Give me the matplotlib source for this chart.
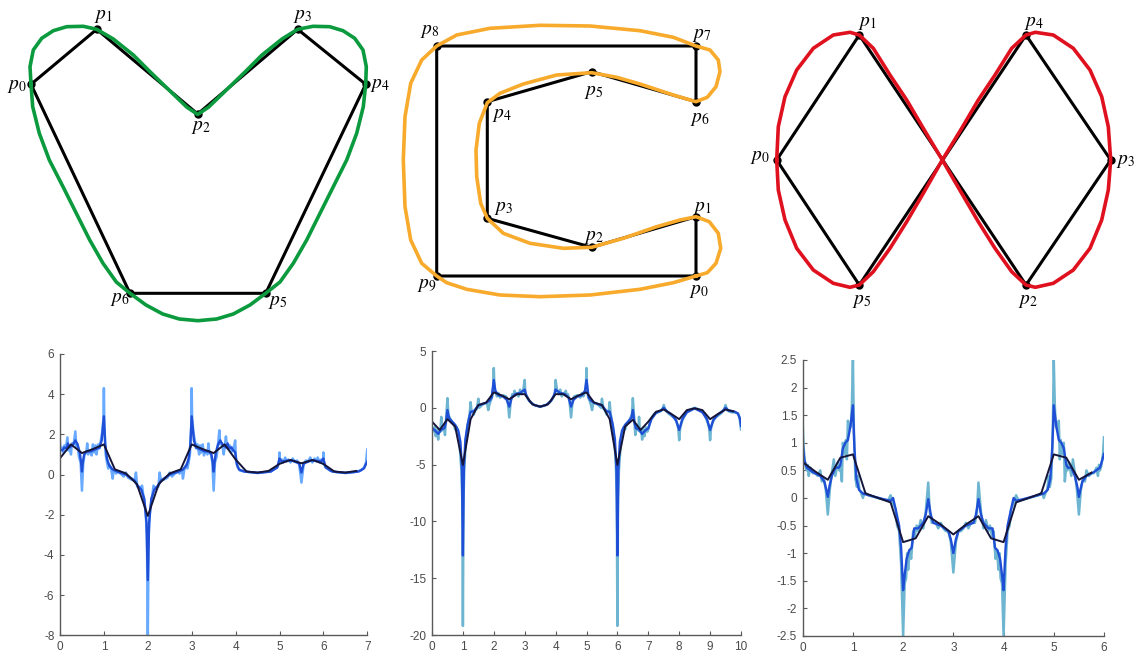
import numpy as np
import matplotlib
matplotlib.use('Agg')
import matplotlib.pyplot as plt
from matplotlib.ticker import FuncFormatter

plt.rcParams['mathtext.fontset'] = 'stix'
plt.rcParams['axes.unicode_minus'] = False
plt.rcParams['font.family'] = ['Liberation Sans Narrow', 'Liberation Sans', 'DejaVu Sans']

W, H = 1141, 661

# ---- top row: control polygons and the curves through them (image pixels) ----
heart_px = [31, 96.7, 197.7, 297.7, 365.7, 265.7, 130]
heart_py = [84.3, 29.3, 114, 29.3, 84.3, 293.3, 293.3]
heart_cx = [31, 30, 33.3, 41.7, 53.3, 66.7, 83.3, 96.7, 113.3, 133.3, 150, 170, 186.7, 197.7,
            208.7, 225.3, 245.3, 262, 282, 297.7, 313, 329.7, 343, 354.7, 363, 366.3, 365.7,
            363.3, 356.7, 346.7, 333.3, 320, 306.7, 293.3, 280, 265.7, 250, 233.3, 216.7, 198,
            179.3, 162.7, 146, 130, 116.3, 103, 89.7, 76.3, 63, 49.3, 39.3, 32.7]
heart_cy = [84.3, 66.7, 50, 38.3, 30.7, 26.7, 26.3, 29.3, 39, 55, 71.7, 91, 107, 114.5,
            107, 91, 71.7, 55, 39, 29.3, 26.3, 26.7, 30.7, 38.3, 50, 66.7, 84.3,
            106.7, 133.3, 160, 186.7, 213.3, 240, 263.3, 282, 293.3, 305, 314, 319, 320.7,
            319, 314, 305, 293.3, 282, 263.3, 240, 213.3, 186.7, 160, 133.3, 106.7]

cshape_px = [696, 696, 591.7, 487.3, 487.3, 591.7, 696, 696, 436.7, 436.7]
cshape_py = [276, 216.7, 247.3, 218.3, 101.7, 71.7, 101.7, 46, 46, 276]
cshape_cx = [696, 673.3, 640, 590, 540, 500, 466.7, 446.7, 436.7, 421.7, 410.7, 405, 403.3, 405,
             410.7, 421.7, 436.7, 456.7, 490, 540, 590, 640, 673.3, 696, 710, 718.3, 720, 716,
             707.3, 696, 673.3, 640, 616.7, 591.7, 556.7, 523.3, 500, 487.3, 479.3, 476, 476.7,
             480.7, 487.3, 503.3, 530, 563.3, 591.7, 623.3, 656.7, 680, 696, 709.3, 718.3,
             720.7, 716, 707.3]
cshape_cy = [276, 282.7, 289.3, 295, 296.7, 295, 289.3, 282.7, 276, 263.3, 240, 206.7, 160, 116.7,
             83.3, 60, 46, 35, 28.3, 25.3, 26, 30.7, 37.3, 46, 50, 60, 71.7, 86.7,
             97.3, 101.7, 95, 84, 77.3, 72.7, 75, 84, 93.3, 102.7, 123.3, 150, 176.7,
             203.3, 218.3, 233.3, 243.3, 248.3, 247.3, 238.3, 226.7, 220, 216.7, 221.7, 233.3,
             248.3, 263.3, 272.7]

eight_px = [776.7, 859.3, 1026, 1110.7, 1026, 859.3]
eight_py = [160, 35, 285, 160, 35, 285]
eight_cx = [776.7, 778.3, 785, 796.7, 813.3, 833.3, 850, 859.3, 873.3, 890, 906.7, 923.3, 942.3,
            961.7, 978.3, 995, 1011.7, 1026, 1035.3, 1053.3, 1073.3, 1090, 1101.7, 1108.3,
            1110.7, 1108.3, 1101.7, 1090, 1073.3, 1053.3, 1035.3, 1026, 1011.7, 995, 978.3,
            961.7, 942.3, 923.3, 906.7, 890, 873.3, 859.3, 850, 833.3, 813.3, 796.7, 785, 778.3]
eight_cy = [160, 126.7, 96.7, 70, 48.3, 35, 32.3, 35, 48.3, 75, 100, 128.3, 160,
            193.3, 221.7, 248.3, 271.7, 285, 287.3, 283.3, 270, 248.3, 220, 190,
            160, 126.7, 96.7, 70, 48.3, 35, 32.3, 35, 48.3, 75, 100,
            128.3, 160, 193.3, 221.7, 248.3, 271.7, 285, 287.3, 283.3, 270, 248.3, 220, 190]

# label offsets (pixels, y up)
heart_off = [(-14, -2), (7, 13), (3, -14), (5, 13), (14, -1), (12, -9), (-10, -6)]
cshape_off = [(3, -16), (6, 8), (2, 10), (16, 10), (15, -14), (2, -21), (4, -18), (6, 10),
              (-7, 14), (-10, -9)]
eight_off = [(-17, 2), (8, 12), (2, -17), (15, -1), (8, 12), (2, -17)]

# ---- bottom row: curvature plots ----
k1_light = [(0.00, 1.6), (0.01, 1.2), (0.05, 1.35), (0.08, 1.1), (0.10, 1.45), (0.13, 1.3),
            (0.17, 1.85), (0.19, 1.2), (0.22, 1.4), (0.25, 1.0), (0.27, 1.55), (0.31, 1.5),
            (0.35, 2.15), (0.37, 1.4), (0.40, 1.5), (0.43, 0.9), (0.47, 0.6), (0.50, -0.8),
            (0.53, 0.6), (0.56, 1.0), (0.60, 1.1), (0.62, 1.55), (0.64, 1.0), (0.70, 1.2),
            (0.72, 0.95), (0.75, 1.5), (0.78, 1.1), (0.81, 1.45), (0.83, 1.0), (0.87, 1.5),
            (0.90, 1.3), (0.93, 1.7), (0.96, 2.1), (0.99, 2.8), (1.00, 4.3), (1.01, 2.5),
            (1.04, 1.0), (1.07, 0.6), (1.10, 0.3), (1.12, 0.5), (1.16, 0.35), (1.20, -0.2),
            (1.22, 0.2), (1.28, 0.05), (1.30, 0.15), (1.38, 0.05), (1.45, -0.1), (1.50, 0.1),
            (1.55, -0.15), (1.63, -0.25), (1.70, -0.3), (1.73, 0.1), (1.76, -0.6), (1.82, -0.7),
            (1.87, -0.55), (1.90, -1.1), (1.95, -1.8), (1.98, -3.0), (2.00, -8.0), (2.02, -3.0),
            (2.05, -1.8), (2.10, -1.1), (2.13, -0.55), (2.18, -0.7), (2.24, -0.6), (2.27, 0.1),
            (2.30, -0.3), (2.37, -0.25), (2.45, -0.15), (2.50, 0.1), (2.55, -0.1), (2.62, 0.05),
            (2.70, 0.15), (2.72, 0.05), (2.78, 0.2), (2.80, -0.2), (2.84, 0.35), (2.88, 0.5),
            (2.90, 0.3), (2.93, 0.6), (2.96, 1.0), (2.99, 2.5), (3.00, 4.3), (3.01, 2.8),
            (3.04, 2.1), (3.07, 1.7), (3.10, 1.3), (3.13, 1.5), (3.17, 1.0), (3.19, 1.45),
            (3.22, 1.1), (3.25, 1.5), (3.28, 0.95), (3.30, 1.2), (3.36, 1.0), (3.38, 1.55),
            (3.40, 1.1), (3.44, 1.0), (3.47, 0.6), (3.50, -0.8), (3.53, 0.6), (3.57, 0.9),
            (3.60, 1.5), (3.63, 2.2), (3.65, 1.5), (3.69, 1.55), (3.73, 1.0), (3.75, 1.4),
            (3.78, 1.9), (3.81, 1.3), (3.87, 1.45), (3.90, 1.1), (3.92, 1.35), (3.95, 1.2),
            (3.99, 1.7), (4.01, 0.7), (4.05, 0.35), (4.10, 0.2), (4.20, 0.15), (4.50, 0.08),
            (4.80, 0.15), (4.95, 0.4), (4.99, 0.55), (5.00, 1.1), (5.01, 0.6), (5.05, 0.75),
            (5.08, 0.6), (5.13, 0.85), (5.16, 0.65), (5.20, 0.75), (5.25, 0.6), (5.30, 0.8),
            (5.35, 0.65), (5.40, 0.7), (5.45, 0.5), (5.50, -0.4), (5.55, 0.5), (5.60, 0.7),
            (5.65, 0.65), (5.70, 0.85), (5.75, 0.6), (5.80, 0.8), (5.84, 0.65), (5.87, 0.85),
            (5.92, 0.6), (5.95, 0.75), (5.99, 0.55), (6.00, 1.1), (6.01, 0.5), (6.05, 0.4),
            (6.15, 0.2), (6.30, 0.12), (6.50, 0.08), (6.70, 0.12), (6.85, 0.2), (6.93, 0.35),
            (6.97, 0.6), (7.00, 1.25)]
k1_mid = [(0, 1.25), (0.05, 1.2), (0.1, 1.35), (0.15, 1.3), (0.18, 1.55), (0.22, 1.35), (0.3, 1.5),
          (0.35, 1.7), (0.4, 1.5), (0.45, 1.1), (0.48, 0.6), (0.5, 0.15), (0.52, 0.6), (0.55, 1.0),
          (0.6, 1.15), (0.7, 1.15), (0.8, 1.25), (0.9, 1.35), (0.95, 1.7), (1.0, 2.9), (1.03, 1.5),
          (1.07, 0.8), (1.12, 0.45), (1.2, 0.25), (1.3, 0.15), (1.5, 0.0), (1.6, -0.15),
          (1.7, -0.3), (1.75, -0.5), (1.85, -0.75), (1.92, -1.2), (1.97, -2.4), (2.0, -5.25),
          (2.03, -2.4), (2.08, -1.2), (2.15, -0.75), (2.25, -0.5), (2.3, -0.3), (2.4, -0.15),
          (2.5, 0.0), (2.7, 0.15), (2.8, 0.25), (2.88, 0.45), (2.93, 0.8), (2.97, 1.5), (3.0, 2.9),
          (3.05, 1.7), (3.1, 1.35), (3.2, 1.25), (3.3, 1.15), (3.4, 1.15), (3.45, 1.0), (3.48, 0.6),
          (3.5, 0.15), (3.52, 0.6), (3.55, 1.1), (3.6, 1.5), (3.65, 1.7), (3.7, 1.5), (3.78, 1.35),
          (3.82, 1.55), (3.85, 1.3), (3.9, 1.35), (3.95, 1.2), (3.99, 1.1), (4.03, 0.5),
          (4.08, 0.25), (4.2, 0.15), (4.5, 0.08), (4.8, 0.15), (4.95, 0.35), (5.0, 0.8),
          (5.05, 0.65), (5.2, 0.7), (5.3, 0.68), (5.45, 0.55), (5.5, 0.1), (5.55, 0.55),
          (5.7, 0.68), (5.8, 0.7), (5.95, 0.65), (6.0, 0.8), (6.05, 0.35), (6.2, 0.15),
          (6.5, 0.08), (6.8, 0.15), (6.92, 0.3), (7.0, 0.65)]
k1_dark = [0.81, 1.5, 1.07, 1.27, 1.5, 0.26, 0.06, -0.47, -2.06, -0.47, 0.06, 0.26, 1.5, 1.27,
           1.07, 1.5, 0.75, 0.15, 0.1, 0.18, 0.53, 0.73, 0.56, 0.73, 0.53, 0.15, 0.1, 0.18]

k2_light = [(0, -1.9), (0.03, -2.1), (0.08, -1.7), (0.12, -2.5), (0.16, -1.9), (0.2, -2.8),
            (0.23, -1.9), (0.27, -2.1), (0.3, -0.8), (0.32, -2.0), (0.38, -1.5), (0.42, -2.4),
            (0.45, -1.2), (0.5, 0.85), (0.53, -0.6), (0.58, -0.9), (0.65, -1.3), (0.7, -1.4),
            (0.75, -1.9), (0.8, -1.7), (0.85, -2.3), (0.9, -3.5), (0.95, -5.5), (0.98, -8),
            (1.0, -19.2), (1.02, -8), (1.05, -5), (1.1, -2.8), (1.15, -1.6), (1.22, -0.5),
            (1.25, 0.5), (1.28, -0.3), (1.35, -0.6), (1.4, -0.2), (1.45, -0.1), (1.5, 0.8),
            (1.53, 0.0), (1.6, 0.2), (1.7, 0.4), (1.78, 0.4), (1.82, -0.2), (1.86, 0.3),
            (1.9, 0.6), (1.95, 1.0), (1.98, 1.7), (2.0, 3.5), (2.02, 1.8), (2.05, 1.4),
            (2.1, 1.0), (2.15, 1.3), (2.2, 0.9), (2.3, 1.1), (2.4, 1.0), (2.45, 0.6),
            (2.5, -0.85), (2.55, 0.6), (2.6, 1.2), (2.63, 1.0), (2.67, 1.5), (2.7, 1.1),
            (2.75, 1.3), (2.8, 1.0), (2.85, 1.6), (2.9, 1.2), (2.95, 1.5), (3.0, 2.45),
            (3.02, 1.3), (3.1, 0.8), (3.2, 0.45), (3.35, 0.2), (3.5, 0.1), (3.65, 0.2),
            (3.8, 0.45), (3.9, 0.8), (3.98, 1.3), (4.0, 2.45), (4.05, 1.5), (4.1, 1.2),
            (4.15, 1.6), (4.2, 1.0), (4.25, 1.3), (4.3, 1.1), (4.33, 1.5), (4.37, 1.0),
            (4.4, 1.2), (4.45, 0.6), (4.5, -0.85), (4.55, 0.6), (4.6, 1.0), (4.7, 1.1),
            (4.8, 0.9), (4.85, 1.3), (4.9, 1.0), (4.95, 1.4), (4.98, 1.8), (5.0, 3.5),
            (5.02, 1.7), (5.05, 1.0), (5.1, 0.6), (5.14, 0.3), (5.18, -0.2), (5.22, 0.4),
            (5.3, 0.4), (5.4, 0.2), (5.47, 0.0), (5.5, 0.8), (5.55, -0.1), (5.6, -0.2),
            (5.65, -0.6), (5.72, -0.3), (5.75, 0.5), (5.78, -0.5), (5.85, -1.6), (5.9, -2.8),
            (5.95, -5), (5.98, -8), (6.0, -19.2), (6.02, -8), (6.05, -5.5), (6.1, -3.5),
            (6.15, -2.3), (6.2, -1.7), (6.25, -1.9), (6.3, -1.4), (6.35, -1.3), (6.42, -0.9),
            (6.47, -0.6), (6.5, 0.85), (6.55, -1.2), (6.58, -2.4), (6.62, -1.5), (6.68, -2.0),
            (6.7, -0.8), (6.73, -2.1), (6.77, -1.9), (6.8, -2.8), (6.84, -1.9), (6.88, -2.5),
            (6.92, -1.7), (6.97, -2.1), (7.0, -1.9), (7.05, -1.3), (7.1, -0.9), (7.2, -0.5),
            (7.3, -0.4), (7.4, -0.3), (7.45, -0.2), (7.5, 0.25), (7.55, -0.2), (7.65, -0.5),
            (7.75, -0.7), (7.85, -0.9), (7.92, -1.3), (7.97, -1.8), (8.0, -2.85), (8.03, -1.8),
            (8.08, -1.3), (8.15, -0.8), (8.25, -0.3), (8.4, -0.1), (8.5, 0.0), (8.6, -0.1),
            (8.75, -0.3), (8.85, -0.8), (8.92, -1.3), (8.97, -1.8), (9.0, -2.85), (9.03, -1.8),
            (9.08, -1.3), (9.15, -0.9), (9.25, -0.7), (9.35, -0.5), (9.45, -0.2), (9.5, 0.25),
            (9.55, -0.2), (9.6, -0.3), (9.7, -0.4), (9.8, -0.4), (9.9, -0.5), (9.95, -0.8),
            (10.0, -1.9)]
k2_mid = [(0, -1.8), (0.1, -2.0), (0.2, -2.3), (0.3, -1.9), (0.4, -1.8), (0.45, -1.3), (0.5, -0.2),
          (0.55, -0.9), (0.65, -1.2), (0.75, -1.5), (0.85, -2.0), (0.92, -3.0), (0.97, -5.5),
          (1.0, -13.0), (1.03, -5.5), (1.08, -2.8), (1.15, -1.5), (1.25, -0.35), (1.35, -0.3),
          (1.5, 0.2), (1.6, 0.3), (1.75, 0.45), (1.85, 0.6), (1.93, 0.9), (2.0, 2.45),
          (2.05, 1.5), (2.15, 1.1), (2.3, 1.0), (2.42, 0.7), (2.5, 0.1), (2.58, 0.9), (2.7, 1.2),
          (2.85, 1.3), (2.95, 1.5), (3.0, 1.6), (3.05, 1.1), (3.15, 0.6), (3.3, 0.25), (3.5, 0.1),
          (3.7, 0.25), (3.85, 0.6), (3.95, 1.1), (4.0, 1.6), (4.05, 1.5), (4.15, 1.3), (4.3, 1.2),
          (4.42, 0.9), (4.5, 0.1), (4.58, 0.7), (4.7, 1.0), (4.85, 1.1), (4.95, 1.5), (5.0, 2.45),
          (5.07, 0.9), (5.15, 0.6), (5.25, 0.45), (5.4, 0.3), (5.5, 0.2), (5.65, -0.3),
          (5.75, -0.35), (5.85, -1.5), (5.92, -2.8), (5.97, -5.5), (6.0, -13.0), (6.03, -5.5),
          (6.08, -3.0), (6.15, -2.0), (6.25, -1.5), (6.35, -1.2), (6.45, -0.9), (6.5, -0.2),
          (6.55, -1.3), (6.6, -1.8), (6.7, -1.9), (6.8, -2.3), (6.9, -2.0), (7.0, -1.8),
          (7.1, -1.0), (7.25, -0.45), (7.4, -0.25), (7.5, 0.0), (7.6, -0.3), (7.75, -0.6),
          (7.9, -1.1), (8.0, -1.95), (8.1, -1.0), (8.25, -0.4), (8.5, -0.05), (8.75, -0.4),
          (8.9, -1.0), (9.0, -1.95), (9.1, -1.1), (9.25, -0.6), (9.4, -0.3), (9.5, 0.0),
          (9.6, -0.25), (9.8, -0.35), (9.9, -0.5), (9.97, -1.0), (10.0, -1.6)]
k2_dark = [-1.22, -1.95, -1.0, -1.65, -5.03, -1.0, 0.25, 0.45, 1.36, 1.1, 0.75, 1.2, 1.2, 0.3,
           0.1, 0.3, 1.2, 1.2, 0.75, 1.1, 1.36, 0.45, 0.25, -1.0, -5.03, -1.65, -1.05, -1.95,
           -1.22, -0.35, -0.15, -0.55, -1.0, -0.2, -0.05, -0.2, -1.0, -0.55, -0.15, -0.3]

k3_light = [(0, 1.33), (0.02, 0.9), (0.05, 0.6), (0.08, 0.5), (0.1, 0.6), (0.12, 0.4), (0.15, 0.55),
            (0.2, 0.45), (0.25, 0.45), (0.3, 0.4), (0.35, 0.5), (0.38, 0.3), (0.42, 0.35),
            (0.46, 0.15), (0.5, -0.3), (0.54, 0.15), (0.58, 0.45), (0.62, 0.7), (0.65, 0.4),
            (0.7, 0.65), (0.73, 0.5), (0.75, 0.6), (0.78, 0.3), (0.8, 1.0), (0.83, 0.8),
            (0.86, 1.05), (0.88, 0.7), (0.9, 1.4), (0.93, 1.25), (0.96, 1.3), (0.98, 1.7),
            (1.0, 2.5), (1.02, 1.2), (1.05, 0.35), (1.08, 0.2), (1.1, 0.4), (1.13, 0.15),
            (1.16, 0.1), (1.2, 0.0), (1.23, 0.1), (1.3, 0.05), (1.5, 0.0), (1.7, -0.05),
            (1.75, 0.05), (1.8, -0.1), (1.85, -0.2), (1.88, -0.5), (1.92, -0.6), (1.96, -1.2),
            (2.0, -2.5), (2.03, -1.55), (2.06, -1.45), (2.08, -1.0), (2.1, -1.3), (2.13, -0.95),
            (2.16, -1.1), (2.2, -0.6), (2.23, -0.7), (2.27, -0.5), (2.3, -0.6), (2.35, -0.4),
            (2.4, -0.55), (2.45, -0.25), (2.5, 0.28), (2.53, -0.25), (2.57, -0.45),
            (2.65, -0.45), (2.7, -0.55), (2.75, -0.45), (2.8, -0.55), (2.85, -0.6), (2.9, -0.6),
            (2.95, -0.8), (3.0, -1.35), (3.05, -0.8), (3.1, -0.6), (3.15, -0.6), (3.2, -0.55),
            (3.25, -0.45), (3.3, -0.55), (3.35, -0.45), (3.43, -0.45), (3.47, -0.25),
            (3.5, 0.28), (3.55, -0.25), (3.6, -0.55), (3.65, -0.4), (3.7, -0.6), (3.73, -0.5),
            (3.77, -0.7), (3.8, -0.6), (3.84, -1.1), (3.87, -0.95), (3.9, -1.3), (3.92, -1.0),
            (3.94, -1.45), (3.97, -1.55), (4.0, -2.5), (4.04, -1.2), (4.08, -0.6), (4.12, -0.5),
            (4.15, -0.2), (4.2, -0.1), (4.25, 0.05), (4.3, -0.05), (4.5, 0.0), (4.7, 0.05),
            (4.77, 0.1), (4.8, 0.0), (4.84, 0.1), (4.87, 0.15), (4.9, 0.4), (4.92, 0.2),
            (4.95, 0.35), (4.98, 1.2), (5.0, 2.5), (5.02, 1.7), (5.04, 1.3), (5.07, 1.25),
            (5.1, 1.4), (5.12, 0.7), (5.14, 1.05), (5.17, 0.8), (5.2, 1.0), (5.22, 0.3),
            (5.25, 0.6), (5.27, 0.5), (5.3, 0.65), (5.35, 0.4), (5.38, 0.7), (5.42, 0.45),
            (5.46, 0.15), (5.5, -0.3), (5.54, 0.15), (5.58, 0.35), (5.62, 0.3), (5.65, 0.5),
            (5.7, 0.4), (5.75, 0.45), (5.8, 0.45), (5.85, 0.55), (5.88, 0.4), (5.9, 0.6),
            (5.92, 0.5), (5.95, 0.6), (5.98, 0.8), (6.0, 1.1)]
k3_mid = [(0, 1.0), (0.03, 0.7), (0.08, 0.55), (0.2, 0.47), (0.35, 0.4), (0.43, 0.3), (0.47, 0.15),
          (0.5, 0.02), (0.53, 0.2), (0.58, 0.4), (0.65, 0.55), (0.72, 0.55), (0.75, 0.6),
          (0.8, 0.9), (0.85, 1.0), (0.9, 1.05), (0.95, 1.3), (1.0, 1.68), (1.03, 0.9),
          (1.07, 0.35), (1.12, 0.15), (1.2, 0.08), (1.4, 0.03), (1.6, -0.02), (1.75, -0.05),
          (1.8, 0.0), (1.85, -0.2), (1.92, -0.5), (1.96, -0.9), (2.0, -1.67), (2.03, -1.4),
          (2.07, -1.1), (2.12, -0.95), (2.17, -0.9), (2.22, -0.55), (2.3, -0.55), (2.4, -0.45),
          (2.45, -0.3), (2.5, -0.02), (2.55, -0.3), (2.6, -0.45), (2.75, -0.5), (2.9, -0.6),
          (2.95, -0.75), (3.0, -1.0), (3.05, -0.75), (3.1, -0.6), (3.25, -0.5), (3.4, -0.45),
          (3.45, -0.3), (3.5, -0.02), (3.55, -0.3), (3.6, -0.45), (3.7, -0.55), (3.78, -0.55),
          (3.83, -0.9), (3.88, -0.95), (3.93, -1.1), (3.97, -1.4), (4.0, -1.67), (4.04, -0.9),
          (4.08, -0.5), (4.15, -0.2), (4.2, 0.0), (4.25, -0.05), (4.4, -0.02), (4.6, 0.03),
          (4.8, 0.08), (4.88, 0.15), (4.93, 0.35), (4.97, 0.9), (5.0, 1.68), (5.05, 1.3),
          (5.1, 1.05), (5.15, 1.0), (5.2, 0.9), (5.25, 0.6), (5.28, 0.55), (5.35, 0.55),
          (5.42, 0.4), (5.47, 0.2), (5.5, 0.02), (5.53, 0.15), (5.57, 0.3), (5.65, 0.4),
          (5.8, 0.47), (5.92, 0.55), (5.97, 0.7), (6.0, 0.8)]
k3_dark = [0.65, 0.48, 0.33, 0.73, 0.79, 0.085, 0.0, -0.08, -0.8, -0.73, -0.33, -0.48, -0.66,
           -0.48, -0.33, -0.73, -0.8, -0.08, 0.0, 0.085, 0.79, 0.73, 0.33, 0.46]


def draw_shape(ax, px, py, cx, cy, color, offsets):
    ax.plot(px + px[:1], py + py[:1], color='k', lw=2.2, solid_joinstyle='round', zorder=2)
    ax.plot(px, py, 'o', color='k', ms=5, zorder=3)
    ax.plot(cx + cx[:1], cy + cy[:1], color=color, lw=2.6, solid_joinstyle='round', zorder=4)
    for i, (x, y) in enumerate(zip(px, py)):
        ax.annotate(r'$p_{%d}$' % i, (x, y), xytext=offsets[i], textcoords='offset pixels',
                    ha='center', va='center', fontsize=14, zorder=5)


def draw_curvature(ax, light, mid, dark, light_color, xmax, ylim, yticks):
    lx, ly = zip(*light)
    mx, my = zip(*mid)
    dx = np.arange(len(dark)) * 0.25
    ax.plot(lx, ly, color=light_color, lw=1.8)
    ax.plot(mx, my, color='#1f4fd6', lw=1.7)
    ax.plot(dx, dark, color='#15153a', lw=1.4)
    ax.set_xlim(0, xmax)
    ax.set_ylim(*ylim)
    ax.set_xticks(range(xmax + 1))
    ax.set_yticks(yticks)
    ax.yaxis.set_major_formatter(FuncFormatter(lambda v, p: '%g' % v))
    for s in ('top', 'right'):
        ax.spines[s].set_visible(False)
    for s in ('left', 'bottom'):
        ax.spines[s].set_color('#5a5a5a')
        ax.spines[s].set_linewidth(1.0)
    ax.tick_params(direction='in', length=3, width=0.8, color='#5a5a5a',
                   labelcolor='#4a4a4a', labelsize=8.5, pad=4)


fig = plt.figure(figsize=(W / 100, H / 100), dpi=100)


def top_axes(x0, x1):
    ax = fig.add_axes([x0 / W, 1 - 330 / H, (x1 - x0) / W, 330 / H])
    ax.set_xlim(x0, x1)
    ax.set_ylim(330, 0)
    ax.axis('off')
    return ax


draw_shape(top_axes(0, 380), heart_px, heart_py, heart_cx, heart_cy, '#0b9a3e', heart_off)
draw_shape(top_axes(380, 760), cshape_px, cshape_py, cshape_cx, cshape_cy, '#f7aa2c', cshape_off)
draw_shape(top_axes(760, 1141), eight_px, eight_py, eight_cx, eight_cy, '#e0111f', eight_off)

ax1 = fig.add_axes([60 / W, 25.7 / H, 307.3 / W, 281.3 / H])
draw_curvature(ax1, k1_light, k1_mid, k1_dark, '#68aaff', 7, (-8, 6), range(-8, 7, 2))
ax2 = fig.add_axes([432 / W, 26 / H, 309 / W, 284 / H])
draw_curvature(ax2, k2_light, k2_mid, k2_dark, '#6db5d0', 10, (-20, 5), range(-20, 6, 5))
ax3 = fig.add_axes([802.7 / W, 25 / H, 301.3 / W, 276 / H])
draw_curvature(ax3, k3_light, k3_mid, k3_dark, '#6db5d0', 6, (-2.5, 2.5),
               np.arange(-2.5, 2.51, 0.5))

fig.savefig('out.png', dpi=100)
